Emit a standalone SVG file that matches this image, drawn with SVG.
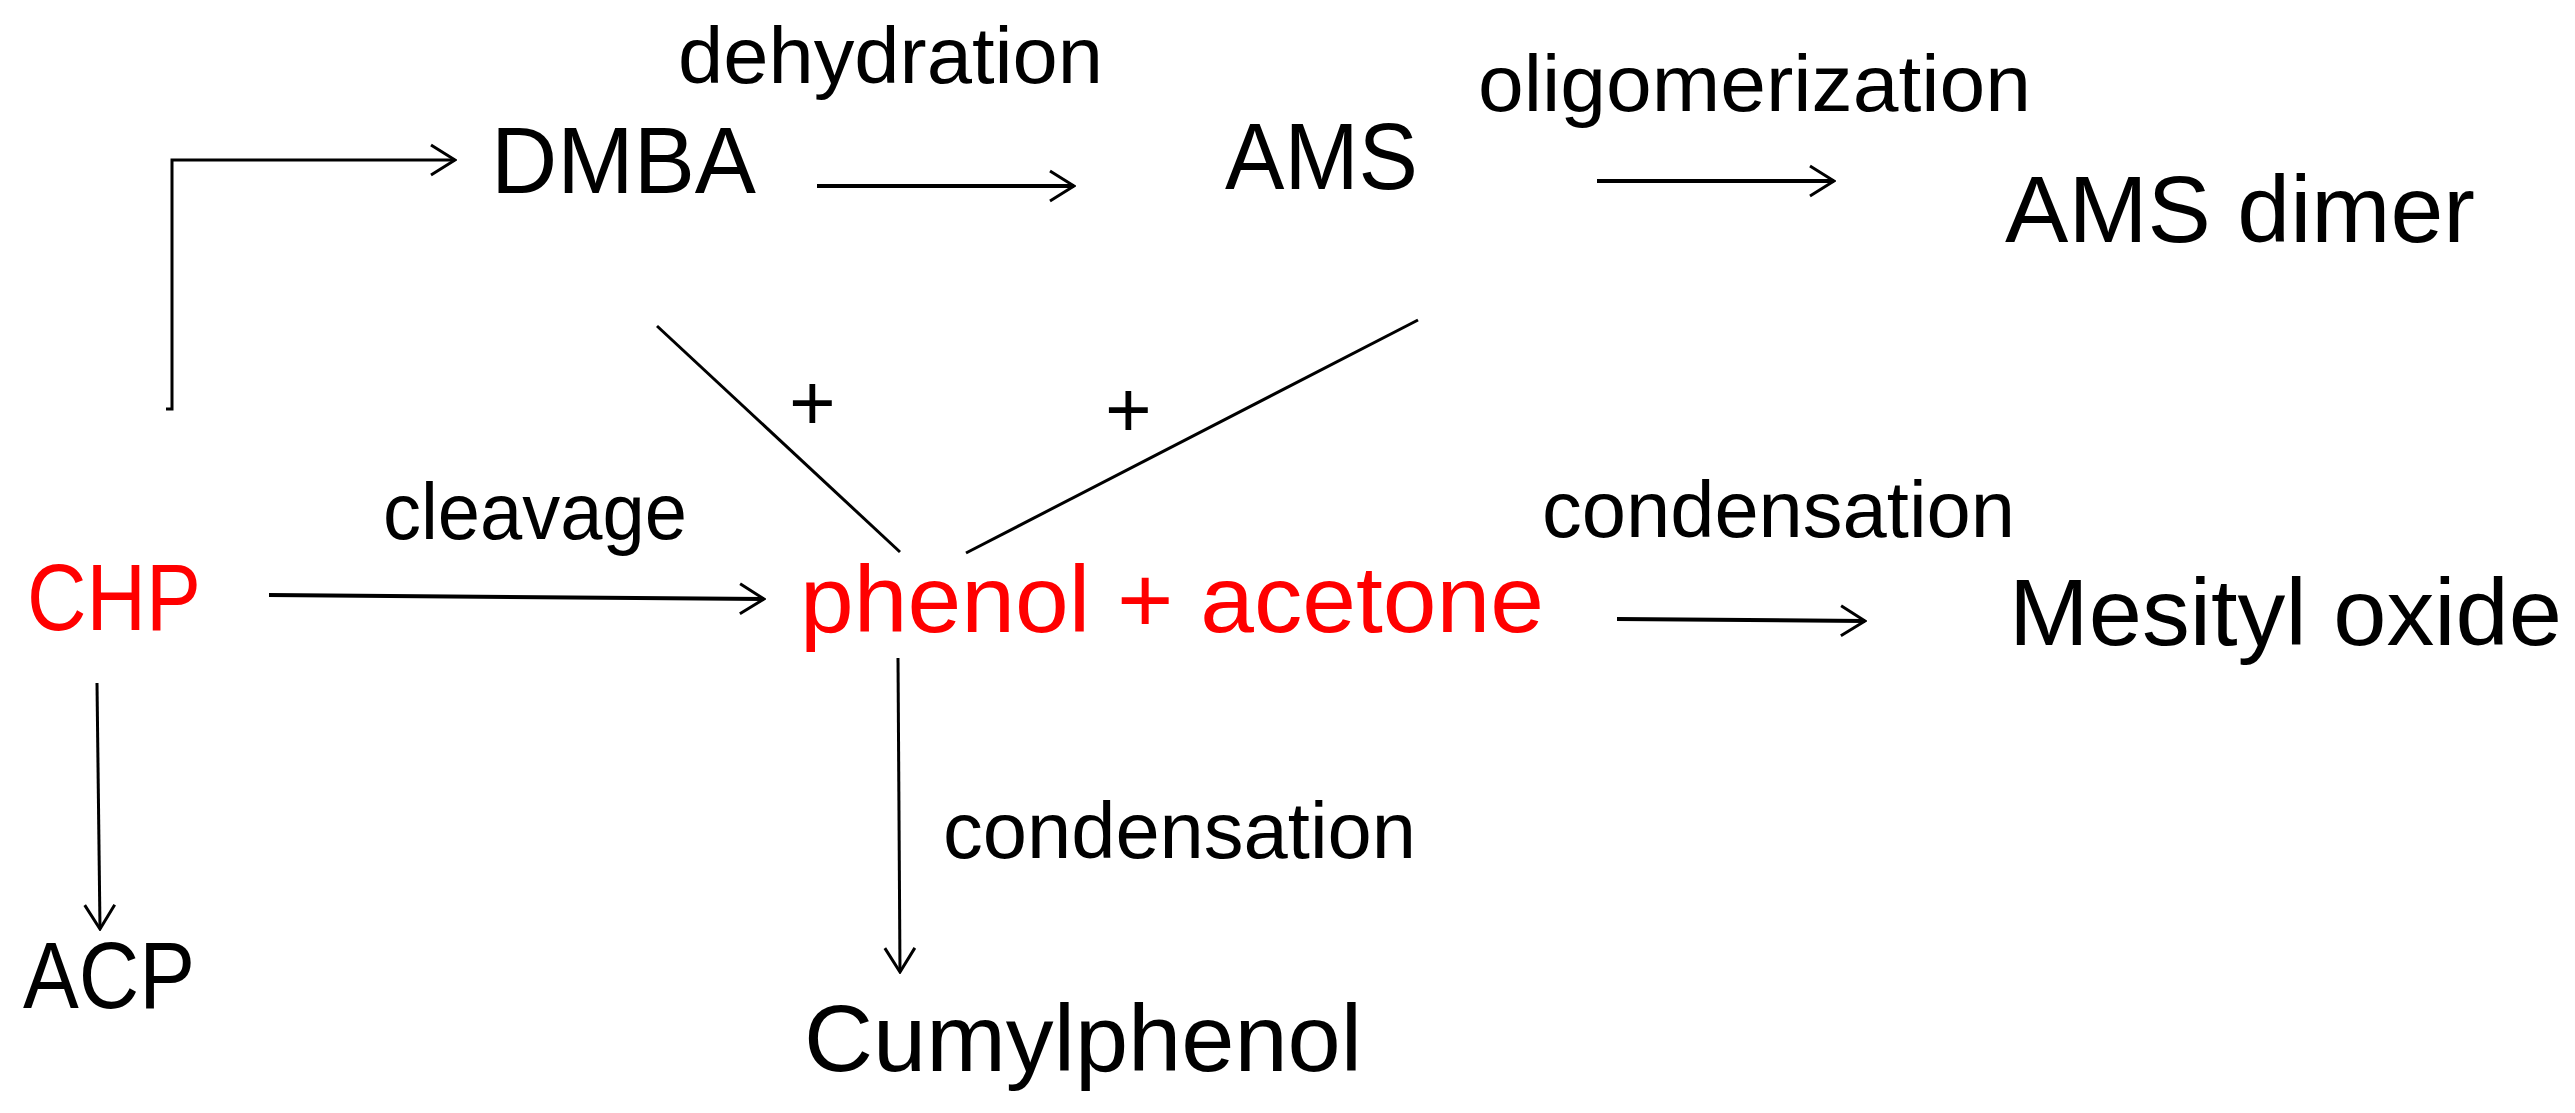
<svg xmlns="http://www.w3.org/2000/svg" width="2575" height="1113" viewBox="0 0 2575 1113">
<style>
text{font-family:"Liberation Sans",Arial,sans-serif;fill:#000}
.big{font-size:95px}
.lab{font-size:80px}
.red{fill:#FF0000}
.c{fill:none;stroke:#000;stroke-width:3}
.t{stroke-width:4}
</style>
<defs>
<marker id="ah" markerUnits="userSpaceOnUse" viewBox="0 0 28 34" refX="26" refY="17" markerWidth="28" markerHeight="34" orient="auto">
<path d="M2,2 L26,17 L2,32" fill="none" stroke="#000" stroke-width="3"/>
</marker>
</defs>
<rect width="2575" height="1113" fill="#fff"/>
<g id="connectors">
<path class="c" d="M166,409 L172,409 L172,160 L455,160" marker-end="url(#ah)"/>
<path class="c t" d="M817,186 L1074,186" marker-end="url(#ah)"/>
<path class="c t" d="M1597,181 L1834,181" marker-end="url(#ah)"/>
<path class="c" d="M657,326 L900,552"/>
<path class="c" d="M966,553 L1418,320"/>
<path class="c t" d="M269,595 L764,599" marker-end="url(#ah)"/>
<path class="c t" d="M1617,619 L1865,621" marker-end="url(#ah)"/>
<path class="c" d="M97,683 L100,929" marker-end="url(#ah)"/>
<path class="c" d="M898,658 L900,972" marker-end="url(#ah)"/>
</g>
<g id="labels">
<text class="lab" x="678" y="83" textLength="425" lengthAdjust="spacingAndGlyphs">dehydration</text>
<text class="lab" x="1478" y="111" textLength="553" lengthAdjust="spacingAndGlyphs">oligomerization</text>
<text class="lab" x="383" y="539" textLength="304" lengthAdjust="spacingAndGlyphs">cleavage</text>
<text class="lab" x="1542" y="537" textLength="473" lengthAdjust="spacingAndGlyphs">condensation</text>
<text class="lab" x="943" y="858" textLength="473" lengthAdjust="spacingAndGlyphs">condensation</text>
<text class="lab" x="789" y="430">+</text>
<text class="lab" x="1105" y="437">+</text>
</g>
<g id="node-dmba"><text class="big" x="491" y="193" textLength="265" lengthAdjust="spacingAndGlyphs">DMBA</text></g>
<g id="node-ams"><text class="big" x="1225" y="189" textLength="193" lengthAdjust="spacingAndGlyphs">AMS</text></g>
<g id="node-amsdimer"><text class="big" x="2005" y="242" textLength="470" lengthAdjust="spacingAndGlyphs">AMS dimer</text></g>
<g id="node-chp"><text class="big red" x="27" y="630" textLength="174" lengthAdjust="spacingAndGlyphs">CHP</text></g>
<g id="node-phenol-acetone"><text class="big red" x="800" y="632" textLength="744" lengthAdjust="spacingAndGlyphs">phenol + acetone</text></g>
<g id="node-mesityl"><text class="big" x="2009" y="645" textLength="553" lengthAdjust="spacingAndGlyphs">Mesityl oxide</text></g>
<g id="node-acp"><text class="big" x="23" y="1008" textLength="172" lengthAdjust="spacingAndGlyphs">ACP</text></g>
<g id="node-cumylphenol"><text class="big" x="804" y="1071" textLength="558" lengthAdjust="spacingAndGlyphs">Cumylphenol</text></g>
</svg>
